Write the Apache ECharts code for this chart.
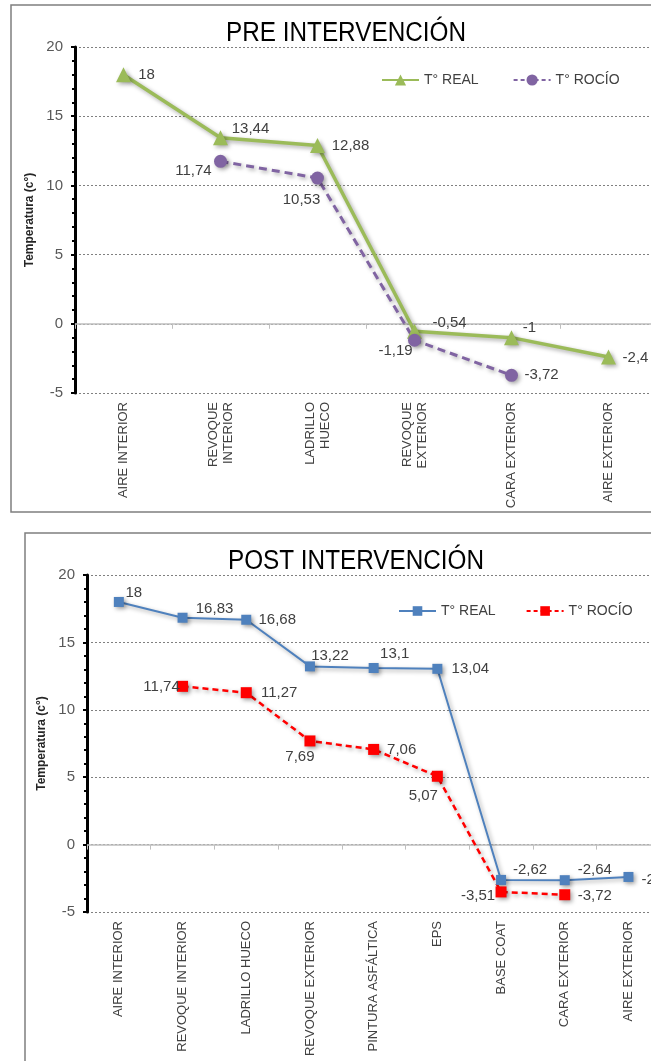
<!DOCTYPE html>
<html><head><meta charset="utf-8">
<script src="https://cdn.jsdelivr.net/npm/echarts@6/dist/echarts.min.js"></script>
<style>html,body{margin:0;padding:0;background:#fff}#c{width:651px;height:1061px}</style>
</head><body><div id="c"></div>
<script>
// ---- data ----
const preCategories = ['AIRE INTERIOR', 'REVOQUE\nINTERIOR', 'LADRILLO\nHUECO', 'REVOQUE\nEXTERIOR', 'CARA EXTERIOR', 'AIRE EXTERIOR'];
const preReal = [18, 13.44, 12.88, -0.54, -1, -2.4];
const preRocio = [null, 11.74, 10.53, -1.19, -3.72, null];
const postCategories = ['AIRE INTERIOR', 'REVOQUE INTERIOR', 'LADRILLO HUECO', 'REVOQUE EXTERIOR', 'PINTURA ASFÁLTICA', 'EPS', 'BASE COAT', 'CARA EXTERIOR', 'AIRE EXTERIOR'];
const postReal = [18, 16.83, 16.68, 13.22, 13.1, 13.04, -2.62, -2.64, -2.4];
const postRocio = [null, 11.74, 11.27, 7.69, 7.06, 5.07, -3.51, -3.72, null];
const yMin = -5, yMax = 20, yStep = 5;
const seriesNames = ['T° REAL', 'T° ROCÍO'];
const titles = ['PRE INTERVENCIÓN', 'POST INTERVENCIÓN'];
const yName = 'Temperatura (c°)';

// ---- label placement (style only) ----
const preRealOff = [[23, 0], [30, -9], [33, 0], [35, -8], [18, -10], [27, 1]];
const preRocioOff = [null, [-27, 10], [-16, 22], [-19, 11], [30, 0], null];
const postRealOff = [[15, -9], [32, -9], [31, 0], [20, -11], [21, -14], [33, 0], [29, -10], [30, -10], [26, 3]];
const postRocioOff = [null, [-21, 1], [33, 0], [-10, 16], [28, 0], [-14, 20], [-23, 4], [30, 1], null];

const SANS = '"Liberation Sans", Arial, sans-serif';
const fmt = v => String(v).replace('.', ',');
const shadow = {shadowColor: 'rgba(0,0,0,0.35)', shadowBlur: 4, shadowOffsetX: 2, shadowOffsetY: 2};

function buildData(vals, offs) {
  return vals.map((v, i) => v == null ? '-' : {value: v, label: {offset: offs[i]}});
}
function mkSeries(name, vals, offs, idx, color, symbol, size, width, dash) {
  return {
    type: 'line', name: name, xAxisIndex: idx, yAxisIndex: idx,
    data: buildData(vals, offs), symbol: symbol, symbolSize: size,
    lineStyle: Object.assign({color: color, width: width, type: dash || 'solid'}, shadow),
    itemStyle: Object.assign({color: color, opacity: 1}, shadow),
    label: {show: true, position: 'inside', align: 'center', verticalAlign: 'middle',
      formatter: p => fmt(p.value), fontFamily: SANS, fontSize: 15, color: '#404040'},
    emphasis: {disabled: true}, animation: false, z: 3
  };
}
function mkX(idx, cats) {
  return {
    gridIndex: idx, type: 'category', data: cats, boundaryGap: true,
    axisLine: {lineStyle: {color: '#bfbfbf', width: 1.5}},
    axisTick: {show: true, length: 5, lineStyle: {color: '#bfbfbf'}},
    axisLabel: {rotate: 90, interval: 0, margin: 9, fontFamily: SANS, fontSize: 13, color: '#404040', lineHeight: 15},
    splitLine: {show: false}
  };
}
function mkY(idx) {
  return {
    gridIndex: idx, type: 'value', min: yMin, max: yMax, interval: yStep,
    name: yName, nameLocation: 'middle', nameRotate: 90, nameGap: 38,
    nameTextStyle: {fontFamily: SANS, fontWeight: 'bold', fontSize: 12, color: '#262626'},
    axisLine: {show: true, lineStyle: {color: '#000', width: 3}},
    axisTick: {show: true, length: 4, lineStyle: {color: '#000', width: 2}},
    minorTick: {show: true, splitNumber: 5, length: 3, lineStyle: {color: '#000', width: 2}},
    axisLabel: {margin: 12, fontFamily: SANS, fontSize: 15, color: '#595959'},
    splitLine: {show: true, lineStyle: {type: [2, 2], color: '#808080', width: 1}}
  };
}
const legendText = {fontFamily: SANS, fontSize: 14, color: '#404040'};
function legendData(names) {
  return [{name: names[0]}, {name: names[1], lineStyle: {type: [4, 3]}}];
}
const option = {
  animation: false,
  backgroundColor: '#fff',
  grid: [
    {left: 75, top: 47, right: -6, bottom: 668, outerBoundsMode: 'none'},
    {left: 87, top: 575, right: -9.3, bottom: 149, outerBoundsMode: 'none'}
  ],
  xAxis: [mkX(0, preCategories), mkX(1, postCategories)],
  yAxis: [mkY(0), mkY(1)],
  legend: [
    {left: 381, top: 73, width: 400, padding: 0, itemWidth: 37, itemHeight: 14, itemGap: 34,
      data: legendData(seriesNames), textStyle: legendText, formatter: n => n.trim(), selectedMode: false},
    {left: 398, top: 604, width: 400, padding: 0, itemWidth: 37, itemHeight: 12, itemGap: 30,
      data: legendData(seriesNames.map(n => n + ' ')), textStyle: legendText, formatter: n => n.trim(), selectedMode: false}
  ],
  graphic: [
    {type: 'rect', shape: {x: 11, y: 5, width: 700, height: 507}, style: {fill: 'none', stroke: '#7f7f7f', lineWidth: 1.5}, z: 0},
    {type: 'rect', shape: {x: 25, y: 533, width: 700, height: 600}, style: {fill: 'none', stroke: '#7f7f7f', lineWidth: 1.5}, z: 0},
    {type: 'text', x: 346, y: 34, scaleX: 0.9, style: {text: titles[0], fontFamily: SANS, fontSize: 27, fill: '#000', align: 'center', verticalAlign: 'middle'}},
    {type: 'text', x: 356, y: 562, scaleX: 0.9, style: {text: titles[1], fontFamily: SANS, fontSize: 27, fill: '#000', align: 'center', verticalAlign: 'middle'}}
  ],
  series: [
    mkSeries(seriesNames[0], preReal, preRealOff, 0, '#9BBB59', 'triangle', 15, 3.5),
    mkSeries(seriesNames[1], preRocio, preRocioOff, 0, '#8064A2', 'circle', 13, 3, [8, 5]),
    mkSeries(seriesNames[0] + ' ', postReal, postRealOff, 1, '#4F81BD', 'rect', 10, 2),
    mkSeries(seriesNames[1] + ' ', postRocio, postRocioOff, 1, '#FF0000', 'rect', 11, 2.5, [6, 4])
  ]
};
const chart = echarts.init(document.getElementById('c'), null, {renderer: 'canvas'});
chart.setOption(option);
</script>
</body></html>
